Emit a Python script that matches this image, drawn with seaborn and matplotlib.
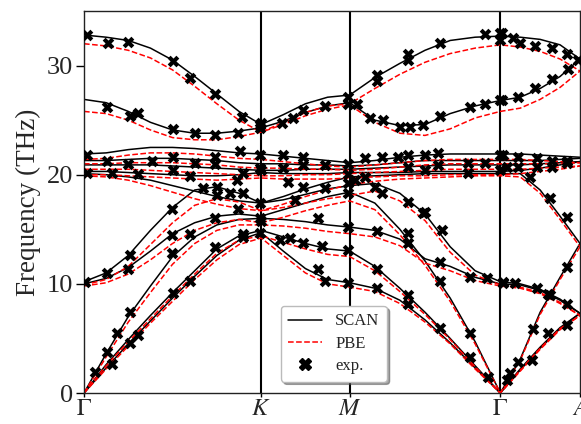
import numpy as np
import pandas as pd
import seaborn as sns
import matplotlib
matplotlib.use("Agg")
import matplotlib.pyplot as plt
from matplotlib.lines import Line2D

# ---------------- data ----------------
path_ticks = [0.0, 1.0, 1.5, 2.35, 2.80]
path_labels = [r"$\Gamma$", r"$K$", r"$M$", r"$\Gamma$", r"$A$"]

q_GK = [0.0, 0.125, 0.25, 0.375, 0.5, 0.625, 0.75, 0.875, 1.0]
q_KM = [1.0, 1.125, 1.25, 1.375, 1.5]
q_MG = [1.5, 1.642, 1.783, 1.925, 2.067, 2.208, 2.35]
q_GA = [2.35, 2.4625, 2.575, 2.6875, 2.80]

scan_GK = [
    [32.8, 32.6, 32.3, 31.6, 30.5, 29.0, 27.4, 25.8, 24.6],
    [26.9, 26.6, 25.8, 24.8, 24.1, 23.8, 23.8, 24.0, 24.3],
    [21.9, 22.0, 22.3, 22.5, 22.5, 22.4, 22.2, 22.0, 21.9],
    [21.3, 21.3, 21.4, 21.5, 21.5, 21.4, 21.3, 21.1, 21.0],
    [20.9, 20.9, 20.9, 20.9, 20.8, 20.7, 20.6, 20.5, 20.4],
    [20.3, 20.3, 20.2, 20.1, 20.0, 19.9, 19.9, 20.0, 20.2],
    [20.1, 20.0, 19.8, 19.5, 19.0, 18.5, 18.0, 17.6, 17.4],
    [10.2, 11.0, 12.6, 14.9, 17.0, 18.6, 18.9, 18.3, 17.4],
    [10.0, 10.5, 11.5, 13.0, 14.6, 15.6, 16.2, 16.4, 16.2],
    [0.0, 3.6, 7.0, 9.8, 12.5, 14.3, 15.4, 15.9, 16.0],
    [0.0, 2.6, 4.9, 7.1, 9.2, 11.2, 13.2, 14.4, 14.9],
    [0.0, 2.3, 4.5, 6.6, 8.7, 10.7, 12.6, 14.0, 14.7],
]
scan_KM = [
    [24.6, 25.5, 26.5, 27.1, 27.3],
    [24.3, 24.9, 25.7, 26.3, 26.6],
    [21.9, 21.7, 21.5, 21.3, 21.1],
    [21.0, 21.0, 20.9, 20.9, 20.8],
    [20.4, 20.4, 20.5, 20.5, 20.5],
    [20.2, 20.1, 20.1, 20.1, 20.2],
    [17.4, 18.0, 18.7, 19.3, 19.8],
    [17.4, 17.7, 18.2, 18.7, 19.0],
    [16.2, 16.8, 17.4, 18.0, 18.4],
    [16.0, 15.9, 15.7, 15.4, 15.2],
    [14.9, 14.3, 13.7, 13.2, 13.0],
    [14.7, 13.0, 11.4, 10.4, 10.1],
]
scan_MG = [
    [27.3, 28.9, 30.2, 31.4, 32.3, 32.6, 32.7],
    [26.6, 25.0, 24.5, 24.6, 25.6, 26.3, 26.8],
    [21.1, 21.3, 21.6, 21.8, 21.9, 21.9, 21.9],
    [20.8, 20.9, 21.1, 21.3, 21.3, 21.3, 21.3],
    [20.5, 20.6, 20.7, 20.8, 20.9, 20.9, 20.9],
    [20.2, 20.2, 20.2, 20.3, 20.3, 20.3, 20.3],
    [19.8, 19.9, 20.0, 20.1, 20.1, 20.1, 20.1],
    [19.0, 19.2, 18.3, 16.4, 13.4, 11.2, 10.2],
    [18.4, 17.4, 15.0, 12.1, 8.7, 4.7, 0.0],
    [15.2, 14.9, 14.1, 12.3, 11.6, 10.6, 10.0],
    [13.0, 11.6, 9.6, 7.4, 5.0, 2.5, 0.0],
    [10.1, 9.6, 8.5, 6.7, 4.6, 2.3, 0.0],
]
scan_GA = [
    [32.7, 32.6, 32.4, 31.9, 30.6],
    [26.8, 27.1, 27.9, 29.0, 30.6],
    [21.9, 21.9, 21.8, 21.7, 21.6],
    [21.3, 21.3, 21.3, 21.4, 21.5],
    [20.9, 20.9, 21.0, 21.1, 21.2],
    [20.3, 20.4, 20.6, 20.9, 21.2],
    [20.1, 20.1, 18.6, 16.2, 13.7],
    [10.2, 10.0, 9.5, 8.6, 7.3],
    [0.0, 3.1, 7.4, 10.6, 13.7],
    [10.0, 9.9, 9.4, 8.5, 7.3],
    [0.0, 2.2, 4.2, 6.0, 7.3],
    [0.0, 2.1, 4.1, 5.9, 7.3],
]

pbe_GK = [
    [32.0, 31.8, 31.4, 30.7, 29.6, 28.1, 26.5, 25.0, 23.9],
    [25.8, 25.6, 25.0, 24.1, 23.4, 23.2, 23.2, 23.5, 23.9],
    [21.4, 21.5, 21.8, 22.0, 22.0, 21.9, 21.7, 21.5, 21.4],
    [21.0, 21.0, 21.1, 21.1, 21.1, 21.0, 20.9, 20.7, 20.6],
    [20.5, 20.5, 20.5, 20.4, 20.3, 20.2, 20.1, 20.0, 19.9],
    [20.0, 20.0, 19.9, 19.8, 19.7, 19.6, 19.5, 19.6, 19.7],
    [19.9, 19.8, 19.5, 19.0, 18.4, 17.8, 17.3, 16.9, 16.7],
    [9.9, 10.4, 11.6, 13.6, 15.6, 17.2, 17.8, 17.5, 16.7],
    [9.8, 10.1, 10.9, 12.2, 13.7, 14.9, 15.6, 15.9, 15.6],
    [0.0, 3.3, 6.5, 9.2, 11.8, 13.7, 14.9, 15.4, 15.4],
    [0.0, 2.5, 4.7, 6.8, 8.9, 10.9, 12.8, 14.0, 14.4],
    [0.0, 2.2, 4.3, 6.4, 8.4, 10.4, 12.2, 13.6, 14.2],
]
pbe_KM = [
    [23.9, 24.8, 25.7, 26.3, 26.5],
    [23.9, 24.6, 25.4, 26.0, 26.4],
    [21.4, 21.2, 21.0, 20.8, 20.7],
    [20.6, 20.6, 20.5, 20.5, 20.4],
    [19.9, 19.9, 20.0, 20.0, 20.1],
    [19.7, 19.6, 19.6, 19.6, 19.7],
    [16.7, 17.3, 18.0, 18.6, 19.1],
    [16.7, 17.0, 17.4, 17.8, 18.1],
    [15.6, 16.1, 16.7, 17.2, 17.6],
    [15.4, 15.3, 15.1, 14.8, 14.6],
    [14.4, 13.8, 13.2, 12.7, 12.5],
    [14.2, 12.6, 11.0, 10.0, 9.7],
]
pbe_MG = [
    [26.5, 27.9, 29.2, 30.3, 31.1, 31.6, 31.9],
    [26.4, 24.8, 23.8, 23.6, 24.2, 25.2, 25.8],
    [20.7, 20.9, 21.1, 21.3, 21.4, 21.4, 21.4],
    [20.4, 20.5, 20.7, 20.9, 21.0, 21.0, 21.0],
    [20.1, 20.2, 20.3, 20.4, 20.5, 20.5, 20.5],
    [19.7, 19.8, 19.9, 19.9, 20.0, 20.0, 20.0],
    [19.1, 19.4, 19.6, 19.7, 19.8, 19.9, 19.9],
    [18.1, 18.5, 17.6, 15.8, 12.9, 10.8, 9.9],
    [17.6, 16.8, 14.5, 11.7, 8.4, 4.5, 0.0],
    [14.6, 14.3, 13.5, 11.9, 11.2, 10.3, 9.8],
    [12.5, 11.2, 9.3, 7.2, 4.9, 2.4, 0.0],
    [9.7, 9.3, 8.2, 6.5, 4.5, 2.2, 0.0],
]
pbe_GA = [
    [31.9, 31.7, 31.3, 30.6, 29.5],
    [25.8, 26.1, 26.9, 28.0, 29.5],
    [21.4, 21.4, 21.3, 21.2, 21.1],
    [21.0, 21.0, 21.0, 21.0, 21.1],
    [20.5, 20.5, 20.6, 20.7, 20.8],
    [20.0, 20.1, 20.3, 20.5, 20.8],
    [19.9, 19.8, 18.3, 15.9, 13.4],
    [9.9, 9.7, 9.2, 8.3, 7.1],
    [0.0, 3.0, 7.2, 10.4, 13.4],
    [9.8, 9.6, 9.1, 8.2, 7.1],
    [0.0, 2.1, 4.1, 5.9, 7.1],
    [0.0, 2.0, 4.0, 5.8, 7.1],
]

exp_q = [
    # Gamma-K
    0.017, 0.136, 0.249, 0.503, 0.599, 0.740, 0.893, 0.994,
    0.130, 0.260, 0.305, 0.503, 0.627, 0.740, 0.870, 0.994,
    0.017, 0.130, 0.158, 0.249, 0.305, 0.384, 0.503, 0.503, 0.627, 0.599,
    0.740, 0.740, 0.881, 0.898, 0.994, 0.994, 0.017,
    0.672, 0.751, 0.825, 0.864, 0.898, 0.751, 0.870,
    0.006, 0.130, 0.249, 0.260, 0.497, 0.497, 0.599, 0.740,
    0.062, 0.130, 0.186, 0.260, 0.158, 0.260, 0.305, 0.503, 0.599, 0.740,
    0.898, 0.898, 0.994, 0.994, 0.994, 0.497,
    # K-M
    1.000, 1.119, 1.181, 1.237, 1.362, 1.492, 1.492, 1.542,
    1.124, 1.124, 1.237, 1.237, 1.237, 1.362, 1.362, 1.492, 1.492, 1.492,
    1.492, 1.153, 1.192, 1.000,
    1.107, 1.164, 1.237, 1.345, 1.322, 1.362, 1.322, 1.492, 1.492, 1.492, 1.000,
    # M-Gamma
    1.655, 1.655, 1.831, 1.831, 2.011, 2.266, 2.350, 2.350,
    1.616, 1.689, 1.785, 1.842, 1.915, 2.011, 2.181, 2.266, 2.350,
    1.588, 1.684, 1.774, 1.831, 1.927, 2.000, 2.000, 2.169, 2.266, 2.350,
    2.350, 1.831, 1.927, 2.169, 1.588, 1.644, 1.684, 1.831, 1.927, 2.023, 1.531,
    1.655, 1.655, 1.655, 1.831, 1.831, 1.831, 1.831, 1.915, 2.011, 2.011,
    2.011, 2.181, 2.181, 2.181, 2.277, 2.282, 2.367,
    # Gamma-A
    2.362, 2.424, 2.463, 2.548, 2.644, 2.729, 2.791,
    2.362, 2.452, 2.548, 2.644, 2.734,
    2.367, 2.452, 2.559, 2.644, 2.729, 2.390, 2.452, 2.559, 2.644, 2.729,
    2.520, 2.633, 2.729,
    2.367, 2.435, 2.559, 2.633, 2.729,
    2.390, 2.452, 2.537, 2.621, 2.729,
    2.407, 2.531, 2.621, 2.729,
]
exp_f = [
    # Gamma-K
    32.8, 32.1, 32.2, 30.4, 28.9, 27.4, 25.3, 24.3,
    26.2, 25.4, 25.7, 24.2, 23.8, 23.6, 23.8, 24.6,
    21.8, 21.3, 20.2, 21.0, 20.1, 21.3, 21.6, 20.4, 21.1, 19.9,
    21.6, 21.0, 22.2, 20.2, 21.8, 20.6, 20.2,
    18.8, 18.9, 18.3, 19.5, 18.3, 18.1, 16.9,
    10.2, 11.0, 11.4, 12.6, 16.9, 14.5, 14.6, 16.0,
    1.9, 3.8, 5.5, 7.4, 2.7, 4.6, 5.3, 9.2, 10.3, 13.4,
    14.6, 14.3, 14.7, 16.0, 17.4, 12.8,
    # K-M
    24.7, 24.7, 25.2, 25.9, 26.3, 27.1, 26.5, 26.5,
    21.8, 20.6, 21.6, 20.9, 18.9, 20.9, 18.8, 21.0, 20.1, 19.2,
    18.3, 19.3, 17.7, 20.4,
    14.0, 14.2, 13.7, 13.5, 11.4, 10.3, 16.0, 15.2, 13.1, 10.1, 15.8,
    # M-Gamma
    29.1, 28.6, 31.1, 30.5, 32.1, 32.9, 33.0, 32.3,
    25.2, 25.0, 24.4, 24.4, 24.6, 25.4, 26.2, 26.5, 26.8,
    21.5, 21.6, 21.6, 21.8, 21.8, 22.0, 20.9, 21.1, 21.1, 21.8,
    20.4, 20.7, 20.4, 20.2, 19.8, 18.9, 18.3, 17.5, 16.6, 14.9, 19.5,
    14.8, 11.4, 9.6, 14.7, 13.7, 9.0, 8.2, 16.5, 12.0, 10.3,
    6.0, 10.6, 5.5, 3.3, 10.5, 1.5, 10.2,
    # Gamma-A
    33.0, 32.5, 32.1, 31.8, 31.6, 31.1, 30.5,
    26.8, 27.1, 27.9, 28.8, 29.7,
    21.8, 21.6, 21.5, 21.3, 21.3, 20.7, 20.7, 20.7, 20.7, 21.1,
    19.8, 17.9, 16.1,
    10.1, 10.1, 9.6, 9.0, 8.2,
    1.2, 2.8, 5.9, 9.1, 11.5,
    1.8, 3.0, 5.5, 6.2,
]


def build(segments, method):
    rows = []
    qs = [q_GK, q_KM, q_MG, q_GA]
    for b in range(12):
        for qseg, seg in zip(qs, segments):
            for qq, ff in zip(qseg, seg[b]):
                rows.append({"q": qq, "freq": ff, "band": b, "method": method})
    return pd.DataFrame(rows)


df_scan = build([scan_GK, scan_KM, scan_MG, scan_GA], "SCAN")
df_pbe = build([pbe_GK, pbe_KM, pbe_MG, pbe_GA], "PBE")

# ---------------- plot ----------------
sns.set_theme(style="ticks")
plt.rcParams["font.family"] = ["Liberation Serif", "DejaVu Serif"]
plt.rcParams["mathtext.fontset"] = "stix"

fig = plt.figure(figsize=(5.81, 4.24), dpi=100)
ax = fig.add_axes([84 / 581, 31 / 424, 496 / 581, 382 / 424])

sns.lineplot(data=df_scan, x="q", y="freq", units="band", estimator=None,
             sort=False, color="black", linewidth=1.1, ax=ax, legend=False)
sns.lineplot(data=df_pbe, x="q", y="freq", units="band", estimator=None,
             sort=False, color="red", linewidth=1.1, linestyle="--",
             ax=ax, legend=False)
sns.scatterplot(x=exp_q, y=exp_f, marker="X", s=70, color="black",
                linewidth=0, zorder=5, ax=ax, legend=False)

for xv in path_ticks[1:4]:
    ax.axvline(xv, color="black", linewidth=1.5, zorder=1)

ax.set_xlim(path_ticks[0], path_ticks[-1])
ax.set_ylim(0, 35)
ax.set_xticks(path_ticks)
ax.set_xticklabels(path_labels, fontsize=17.5)
ax.set_yticks([0, 10, 20, 30])
ax.tick_params(axis="y", labelsize=19, length=6, width=1, pad=2,
               color="black")
ax.tick_params(axis="x", length=3, width=1, pad=1.5, color="black")
ax.set_xlabel("")
ax.set_ylabel("Frequency (THz)", fontsize=19.5, labelpad=4)
for sp in ax.spines.values():
    sp.set_color("#222222")
    sp.set_linewidth(1.0)

handles = [
    Line2D([], [], color="black", linewidth=1.1),
    Line2D([], [], color="red", linewidth=1.1, linestyle="--"),
    Line2D([], [], color="black", marker="X", linestyle="none", markersize=8),
]
leg = ax.legend(handles, ["SCAN", "PBE", "exp."], loc="upper left",
                bbox_to_anchor=(0.397, 0.228), borderaxespad=0.0,
                fontsize=12, shadow=True, fancybox=True, framealpha=1.0,
                handlelength=2.0, borderpad=0.45, labelspacing=0.38,
                handletextpad=0.8)
leg.get_frame().set_edgecolor("#bbbbbb")

fig.savefig("out.png", dpi=100)
